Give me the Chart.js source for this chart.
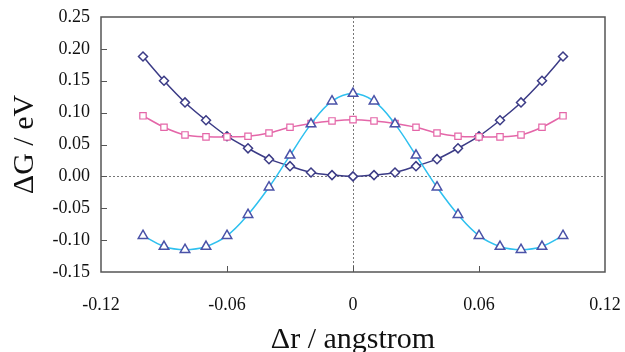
<!DOCTYPE html>
<html>
<head>
<meta charset="utf-8">
<script src="https://cdn.jsdelivr.net/npm/chart.js@4"></script>
<style>
  html, body { margin: 0; padding: 0; background: #fff; }
  #wrap { width: 625px; height: 352px; }
</style>
</head>
<body>
<div id="wrap"><canvas id="chart" width="625" height="352"></canvas></div>
<script>
// displacement grid (angstrom)
const dr = [-0.10, -0.09, -0.08, -0.07, -0.06, -0.05, -0.04, -0.03, -0.02, -0.01, 0.00,
            0.01, 0.02, 0.03, 0.04, 0.05, 0.06, 0.07, 0.08, 0.09, 0.10];

// free energy curves (eV)
const diamondG = [0.188, 0.150, 0.116, 0.088, 0.063, 0.044, 0.027, 0.016, 0.006, 0.002, 0.000,
                  0.002, 0.006, 0.016, 0.027, 0.044, 0.063, 0.088, 0.116, 0.150, 0.188];
const squareG = [0.095, 0.077, 0.065, 0.062, 0.062, 0.063, 0.068, 0.077, 0.083, 0.087, 0.089,
                 0.087, 0.083, 0.077, 0.068, 0.063, 0.062, 0.062, 0.065, 0.077, 0.095];
const triangleG = [-0.093, -0.110, -0.115, -0.110, -0.093, -0.060, -0.017, 0.033, 0.082, 0.118, 0.130,
                   0.118, 0.082, 0.033, -0.017, -0.060, -0.093, -0.110, -0.115, -0.110, -0.093];

const xTicks = [-0.12, -0.06, 0, 0.06, 0.12];
const yTicks = [-0.15, -0.10, -0.05, 0.00, 0.05, 0.10, 0.15, 0.20, 0.25];

const pts = ys => dr.map((x, i) => ({ x, y: ys[i] }));
const serif = "'Liberation Serif', 'DejaVu Serif', serif";

// inward tick marks, dotted zero lines and the plot frame
const framePlugin = {
  id: 'frame',
  beforeDatasetsDraw(chart) {
    const { ctx, chartArea: a, scales: { x, y } } = chart;
    ctx.save();
    ctx.strokeStyle = '#777';
    ctx.lineWidth = 1;
    ctx.setLineDash([2, 2]);
    const x0 = Math.round(x.getPixelForValue(0)) + 0.5;
    const y0 = Math.round(y.getPixelForValue(0)) + 0.5;
    ctx.beginPath();
    ctx.moveTo(x0, a.top); ctx.lineTo(x0, a.bottom);
    ctx.moveTo(a.left, y0); ctx.lineTo(a.right, y0);
    ctx.stroke();
    ctx.restore();
  },
  afterDraw(chart) {
    const { ctx, chartArea: a, scales: { x, y } } = chart;
    ctx.save();
    ctx.strokeStyle = '#555';
    ctx.lineWidth = 1.5;
    ctx.strokeRect(a.left, a.top, a.right - a.left, a.bottom - a.top);
    ctx.lineWidth = 1;
    ctx.beginPath();
    xTicks.slice(1, -1).forEach(v => {
      const px = Math.round(x.getPixelForValue(v)) + 0.5;
      ctx.moveTo(px, a.bottom); ctx.lineTo(px, a.bottom - 6);
    });
    yTicks.slice(1, -1).forEach(v => {
      const py = Math.round(y.getPixelForValue(v)) + 0.5;
      ctx.moveTo(a.left, py); ctx.lineTo(a.left + 6, py);
    });
    ctx.stroke();
    ctx.restore();
  }
};

new Chart(document.getElementById('chart'), {
  type: 'scatter',
  data: {
    datasets: [
      {
        label: 'triangle',
        data: pts(triangleG),
        showLine: true,
        tension: 0.4,
        borderColor: '#2ec0ef',
        borderWidth: 1.5,
        pointStyle: 'triangle',
        pointRadius: 5.5,
        pointBorderColor: '#4a52a8',
        pointBackgroundColor: '#fff',
        pointBorderWidth: 1.5
      },
      {
        label: 'square',
        data: pts(squareG),
        showLine: true,
        tension: 0.3,
        borderColor: '#e466a8',
        borderWidth: 1.5,
        pointStyle: 'rect',
        pointRadius: 4.5,
        pointBorderColor: '#e466a8',
        pointBackgroundColor: '#fff',
        pointBorderWidth: 1.2
      },
      {
        label: 'diamond',
        data: pts(diamondG),
        showLine: true,
        tension: 0.3,
        borderColor: '#3b3b86',
        borderWidth: 1.5,
        pointStyle: 'rectRot',
        pointRadius: 4.5,
        pointBorderColor: '#3b3b86',
        pointBackgroundColor: '#fff',
        pointBorderWidth: 1.5
      }
    ]
  },
  options: {
    responsive: false,
    animation: false,
    layout: { padding: { top: 17, right: 20, left: 0, bottom: 0 } },
    plugins: { legend: { display: false }, tooltip: { enabled: false } },
    scales: {
      x: {
        type: 'linear',
        min: -0.12,
        max: 0.12,
        afterBuildTicks: s => { s.ticks = xTicks.map(v => ({ value: v })); },
        afterFit: s => { s.height = 80; s.paddingLeft = 0; s.paddingRight = 0; },
        grid: { display: false },
        border: { display: false },
        ticks: {
          color: '#111',
          padding: 14,
          maxRotation: 0,
          font: { family: serif, size: 18 },
          callback: v => (v === 0 ? '0' : String(Math.round(v * 100) / 100))
        },
        title: {
          display: true,
          text: 'Δr / angstrom',
          color: '#111',
          padding: { top: 0, bottom: -3 },
          font: { family: serif, size: 30, lineHeight: 1 }
        }
      },
      y: {
        type: 'linear',
        min: -0.15,
        max: 0.25,
        afterBuildTicks: s => { s.ticks = yTicks.map(v => ({ value: v })); },
        afterFit: s => { s.width = 101; s.paddingTop = 0; s.paddingBottom = 0; },
        grid: { display: false },
        border: { display: false },
        ticks: {
          color: '#111',
          padding: 3,
          font: { family: serif, size: 18 },
          callback: v => v.toFixed(2)
        },
        title: {
          display: true,
          text: 'ΔG / eV',
          color: '#111',
          padding: { top: 10, bottom: 0 },
          font: { family: serif, size: 30, lineHeight: 1 }
        }
      }
    }
  },
  plugins: [framePlugin]
});
</script>
</body>
</html>
